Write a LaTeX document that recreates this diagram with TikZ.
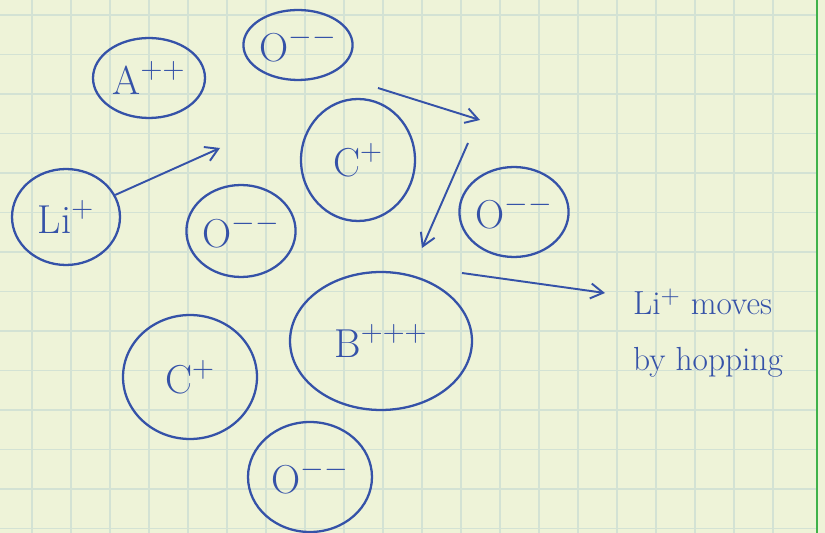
\documentclass[tikz,border=0pt]{standalone}
\usepackage{xcolor}
\usepackage{tikz}
\usetikzlibrary{
  arrows.meta,
  shapes.geometric,
  positioning
}
\definecolor{inkBlue}{HTML}{3552A8}
\definecolor{paperBg}{HTML}{EEF3D8}
\definecolor{paperGrid}{HTML}{D3E2D4}
\definecolor{paperEdge}{HTML}{3FB24A}
\tikzset{
  ion/.style={
    ellipse, draw=inkBlue, line width=1.3pt, text=inkBlue, inner sep=0pt,
    font=\fontsize{23}{27}\selectfont
  },
  hop/.style={-{Straight Barb[length=2.5mm, width=3mm]}, line width=1.1pt, inkBlue},
  gridline/.style={paperGrid, line width=0.8pt},
  note/.style={text=inkBlue, align=left, font=\fontsize{19}{32}\selectfont}
}

\begin{document}
\begin{tikzpicture}[x=0.02cm, y=-0.02cm]
  % paper
  \fill[paperBg] (0,0) rectangle (825,533);
  \useasboundingbox (0,0) rectangle (825,533);
  \foreach \gx in {32,71,...,800}{\draw[gridline] (\gx,0) -- (\gx,533);}
  \foreach \gy in {15,54.5,...,533}{\draw[gridline] (0,\gy) -- (817,\gy);}
  \draw[paperEdge, line width=1.5pt] (817,0) -- (817,533);
  % ions
  \node[ion, minimum width=2.24cm, minimum height=1.6cm] (aion) at (149,78) {A$^{++}$};
  \node[ion, minimum width=2.0cm, minimum height=1.4cm] (otop) at (298,45) {O$^{--}$};
  \node[ion, minimum width=2.28cm, minimum height=2.44cm] (cmid) at (358,160) {C$^{+}$};
  \node[ion, minimum width=2.16cm, minimum height=1.92cm] (li) at (66,217) {Li$^{+}$};
  \node[ion, minimum width=2.16cm, minimum height=1.84cm] (omid) at (241,231) {O$^{--}$};
  \node[ion, minimum width=2.16cm, minimum height=1.8cm] (oright) at (514,212) {O$^{--}$};
  \node[ion, minimum width=3.64cm, minimum height=2.76cm] (bion) at (381,341) {B$^{+++}$};
  \node[ion, minimum width=2.68cm, minimum height=2.48cm] (clow) at (190,377) {C$^{+}$};
  \node[ion, minimum width=2.48cm, minimum height=2.2cm] (obot) at (310,477) {O$^{--}$};
  % note
  \node[note] (hopnote) at (708,333) {Li$^{+}$ moves\\by hopping};
  % hops
  \coordinate (liend) at (220,148);
  \coordinate (topstart) at (378,88);
  \coordinate (topend) at (480,120);
  \coordinate (downstart) at (468,143);
  \coordinate (downend) at (422,248);
  \coordinate (outstart) at (462,273);
  \coordinate (outend) at (605,293);
  \draw[hop] (li) -- (liend);
  \draw[hop] (topstart) -- (topend);
  \draw[hop] (downstart) -- (downend);
  \draw[hop] (outstart) -- (outend);
\end{tikzpicture}
\end{document}
